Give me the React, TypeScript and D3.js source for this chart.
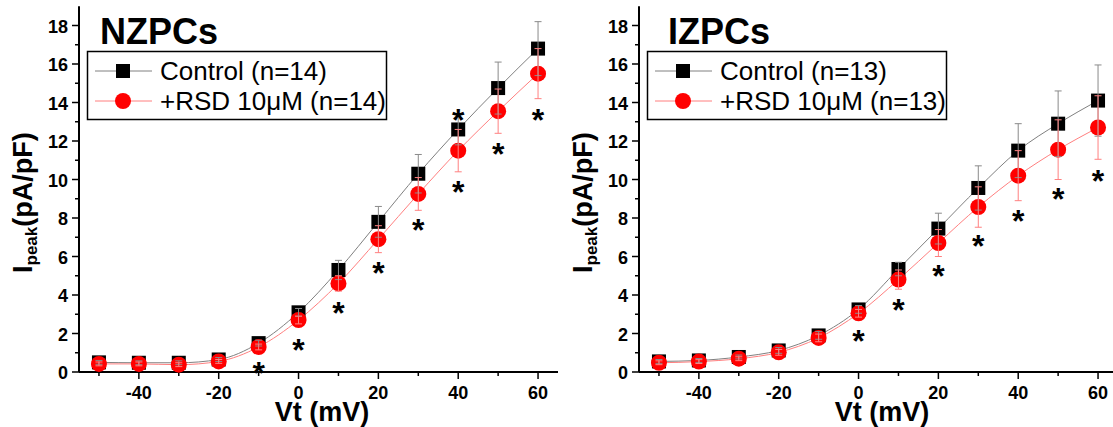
import { useRef, useEffect } from "react";
import * as d3 from "d3";

const VT = [-50, -40, -30, -20, -10, 0, 10, 20, 30, 40, 50, 60];

// NZPCs
const nzCtrl = [0.5, 0.48, 0.48, 0.65, 1.5, 3.1, 5.3, 7.8, 10.3, 12.6, 14.75, 16.8];
const nzCtrlSem = [0.1, 0.1, 0.1, 0.1, 0.15, 0.2, 0.5, 0.8, 1.0, 0.8, 1.35, 1.4];
const nzRsd = [0.42, 0.42, 0.38, 0.55, 1.3, 2.7, 4.6, 6.9, 9.25, 11.5, 13.55, 15.5];
const nzRsdSem = [0.1, 0.1, 0.1, 0.1, 0.15, 0.2, 0.4, 0.7, 0.85, 1.1, 1.15, 1.3];
const nzStarX = [-10, 0, 10, 20, 30, 40, 40, 50, 60];
const nzStarY = [0.3, 1.5, 3.45, 5.5, 7.75, 9.7, 13.45, 11.7, 13.45];

// IZPCs
const izCtrl = [0.55, 0.6, 0.78, 1.12, 1.9, 3.25, 5.35, 7.45, 9.56, 11.5, 12.9, 14.1];
const izCtrlSem = [0.1, 0.1, 0.1, 0.15, 0.2, 0.2, 0.35, 0.8, 1.15, 1.4, 1.7, 1.85];
const izRsd = [0.48, 0.54, 0.69, 1.02, 1.77, 3.05, 4.8, 6.7, 8.57, 10.2, 11.55, 12.7];
const izRsdSem = [0.1, 0.1, 0.1, 0.15, 0.2, 0.2, 0.5, 0.7, 1.05, 1.3, 1.55, 1.65];
const izStarX = [0, 10, 20, 30, 40, 50, 60];
const izStarY = [2.0, 3.6, 5.35, 6.9, 8.2, 9.36, 10.3];

const xTicks = [-40, -20, 0, 20, 40, 60];
const xMinor = [-50, -30, -10, 10, 30, 50];
const yTicks = [0, 2, 4, 6, 8, 10, 12, 14, 16, 18];
const yMinor = [1, 3, 5, 7, 9, 11, 13, 15, 17];

const FONT = "'Liberation Sans', Arial, sans-serif";

const panels = [
  { ox: 0, title: "NZPCs", titleX: 100, n: 14, ctrl: nzCtrl, ctrlSem: nzCtrlSem, rsd: nzRsd, rsdSem: nzRsdSem, sx: nzStarX, sy: nzStarY },
  { ox: 560, title: "IZPCs", titleX: 108, n: 13, ctrl: izCtrl, ctrlSem: izCtrlSem, rsd: izRsd, rsdSem: izRsdSem, sx: izStarX, sy: izStarY },
];

function drawPanel(svg, p) {
  const g = svg.append("g").attr("transform", `translate(${p.ox},0)`);
  const x = d3.scaleLinear().domain([-55, 65]).range([79, 558]);
  const y = d3.scaleLinear().domain([0, 19]).range([372, 6.25]);

  // axes
  g.append("line").attr("x1", x(-55)).attr("x2", x(65)).attr("y1", y(0)).attr("y2", y(0))
    .attr("stroke", "#000").attr("stroke-width", 2);
  g.append("line").attr("x1", x(-55)).attr("x2", x(-55)).attr("y1", y(0)).attr("y2", y(19))
    .attr("stroke", "#000").attr("stroke-width", 2);

  xTicks.forEach(t => {
    g.append("line").attr("x1", x(t)).attr("x2", x(t)).attr("y1", y(0)).attr("y2", y(0) + 7)
      .attr("stroke", "#000").attr("stroke-width", 1.5);
    g.append("text").attr("x", x(t)).attr("y", 399).attr("text-anchor", "middle")
      .attr("font-family", FONT).attr("font-weight", "bold").attr("font-size", 18).text(t);
  });
  xMinor.forEach(t => {
    g.append("line").attr("x1", x(t)).attr("x2", x(t)).attr("y1", y(0)).attr("y2", y(0) + 4)
      .attr("stroke", "#000").attr("stroke-width", 1.5);
  });
  yTicks.forEach(t => {
    g.append("line").attr("x1", x(-55) - 7).attr("x2", x(-55)).attr("y1", y(t)).attr("y2", y(t))
      .attr("stroke", "#000").attr("stroke-width", 1.5);
    g.append("text").attr("x", x(-55) - 11).attr("y", y(t) + 7).attr("text-anchor", "end")
      .attr("font-family", FONT).attr("font-weight", "bold").attr("font-size", 18).text(t);
  });
  yMinor.forEach(t => {
    g.append("line").attr("x1", x(-55) - 4).attr("x2", x(-55)).attr("y1", y(t)).attr("y2", y(t))
      .attr("stroke", "#000").attr("stroke-width", 1.5);
  });

  // axis titles
  g.append("text").attr("x", 322).attr("y", 421).attr("text-anchor", "middle")
    .attr("font-family", FONT).attr("font-weight", "bold").attr("font-size", 27).text("Vt (mV)");
  const yl = g.append("text").attr("transform", "translate(32,273) rotate(-90)")
    .attr("font-family", FONT).attr("font-weight", "bold");
  yl.append("tspan").attr("font-size", 27).text("I");
  yl.append("tspan").attr("font-size", 17).attr("dy", 5).text("peak");
  yl.append("tspan").attr("font-size", 27).attr("dy", -5).text("(pA/pF)");

  // title
  g.append("text").attr("x", p.titleX).attr("y", 44).attr("font-family", FONT)
    .attr("font-weight", "bold").attr("font-size", 36).text(p.title);

  // curves
  const line = (vals) => d3.line().x((d, i) => x(VT[i])).y(d => y(d)).curve(d3.curveMonotoneX)(vals);
  g.append("path").attr("d", line(p.ctrl)).attr("fill", "none").attr("stroke", "#808080").attr("stroke-width", 1);
  g.append("path").attr("d", line(p.rsd)).attr("fill", "none").attr("stroke", "#ff7f7f").attr("stroke-width", 1);

  // markers
  p.ctrl.forEach((v, i) => {
    g.append("rect").attr("x", x(VT[i]) - 7).attr("y", y(v) - 7).attr("width", 14).attr("height", 14).attr("fill", "#000");
  });
  p.rsd.forEach((v, i) => {
    g.append("circle").attr("cx", x(VT[i])).attr("cy", y(v)).attr("r", 8).attr("fill", "#ff0000");
  });

  // error bars
  const bars = (vals, sems, color) => {
    vals.forEach((v, i) => {
      const cx = x(VT[i]);
      const y1 = y(v - sems[i]);
      const y2 = y(v + sems[i]);
      g.append("line").attr("x1", cx).attr("x2", cx).attr("y1", y1).attr("y2", y2).attr("stroke", color).attr("stroke-width", 1);
      [y1, y2].forEach(yy => {
        g.append("line").attr("x1", cx - 3.5).attr("x2", cx + 3.5).attr("y1", yy).attr("y2", yy).attr("stroke", color).attr("stroke-width", 1);
      });
    });
  };
  bars(p.ctrl, p.ctrlSem, "#8a8a8a");
  bars(p.rsd, p.rsdSem, "#ff8080");

  // significance stars
  p.sx.forEach((sx, i) => {
    g.append("text").attr("x", x(sx)).attr("y", y(p.sy[i]) + 18).attr("text-anchor", "middle")
      .attr("font-family", FONT).attr("font-weight", "bold").attr("font-size", 32).text("*");
  });

  // legend
  g.append("rect").attr("x", 87.5).attr("y", 51.5).attr("width", 299).attr("height", 68)
    .attr("fill", "#fff").attr("stroke", "#000").attr("stroke-width", 1.5);
  g.append("line").attr("x1", 95).attr("x2", 152).attr("y1", 71).attr("y2", 71).attr("stroke", "#808080").attr("stroke-width", 1);
  g.append("rect").attr("x", 123 - 7).attr("y", 71 - 7).attr("width", 14).attr("height", 14).attr("fill", "#000");
  g.append("line").attr("x1", 95).attr("x2", 152).attr("y1", 101).attr("y2", 101).attr("stroke", "#ff7f7f").attr("stroke-width", 1);
  g.append("circle").attr("cx", 123).attr("cy", 101).attr("r", 8).attr("fill", "#ff0000");
  g.append("text").attr("x", 160).attr("y", 80).attr("font-family", FONT).attr("font-size", 26)
    .text(`Control (n=${p.n})`);
  g.append("text").attr("x", 160).attr("y", 110).attr("font-family", FONT).attr("font-size", 26)
    .text(`+RSD 10μM (n=${p.n})`);
}

export default function App() {
  const svgRef = useRef(null);

  useEffect(() => {
    const svg = d3.select(svgRef.current);
    svg.selectAll("*").remove();
    panels.forEach(p => drawPanel(svg, p));
  }, []);

  return (
    <svg
      ref={svgRef}
      width={1113}
      height={427}
      style={{ position: "absolute", left: 0, top: 0, background: "#fff" }}
    />
  );
}
